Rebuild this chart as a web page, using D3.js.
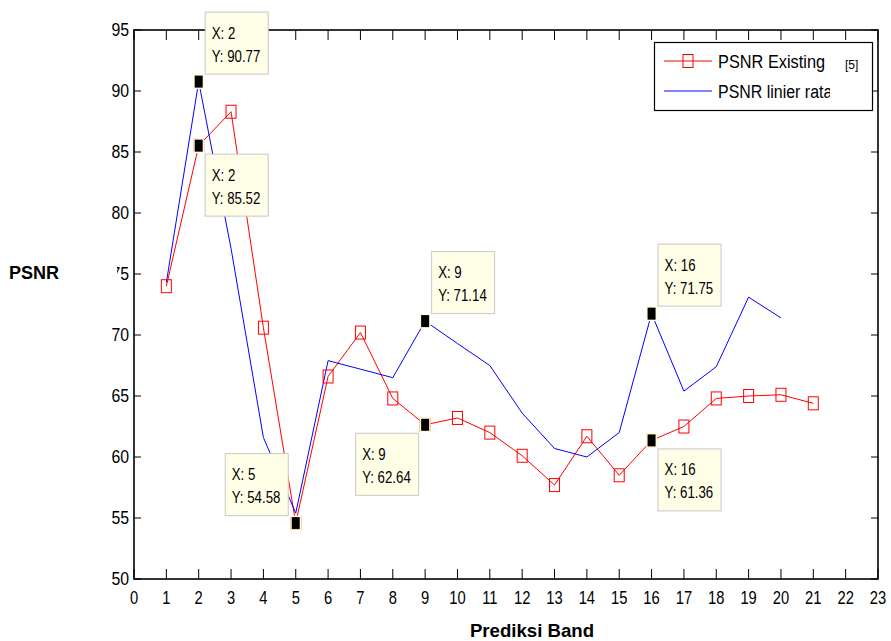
<!DOCTYPE html>
<html><head><meta charset="utf-8">
<script src="https://cdn.jsdelivr.net/npm/d3@7"></script>
<style>
body{margin:0;background:#fff;}
svg{display:block;}
text{font-family:"Liberation Sans",Arial,sans-serif;fill:#000;}
</style></head>
<body>
<svg id="chart" width="891" height="641"></svg>
<script>
// ---- data ----
const bands = [1,2,3,4,5,6,7,8,9,10,11,12,13,14,15,16,17,18,19,20,21];
const psnrExisting = [74.0,85.52,88.3,70.6,54.58,66.6,70.2,64.8,62.64,63.2,62.0,60.1,57.7,61.7,58.5,61.36,62.5,64.8,65.0,65.1,64.4];
const bandsLinier = [1,2,3,4,5,6,7,8,9,10,11,12,13,14,15,16,17,18,19,20];
const psnrLinier = [74.3,90.77,77.1,61.6,55.4,67.9,67.2,66.5,71.14,69.3,67.5,63.6,60.7,60.0,62.0,71.75,65.4,67.4,73.1,71.4];
const xTicks = d3.range(0,24);
const yTicks = [50,55,60,65,70,75,80,85,90,95];
const seriesNames = ["PSNR Existing","PSNR linier rata"];
// data tips: x, y, placement
const dataTips = [
  {x:2, y:90.77, place:"ur"},
  {x:2, y:85.52, place:"dr"},
  {x:5, y:54.58, place:"ul"},
  {x:9, y:62.64, place:"dl"},
  {x:9, y:71.14, place:"ur"},
  {x:16, y:71.75, place:"ur"},
  {x:16, y:61.36, place:"dr"}
];

// ---- layout ----
const svg = d3.select("#chart");
const L=134, R=878, T=30, B=579;
const x = d3.scaleLinear().domain([0,23]).range([L,R]);
const y = d3.scaleLinear().domain([50,95]).range([B,T]);

function ntext(g, tx, ty, str, size, sx, anchor){
  return g.append("text")
    .attr("transform",`translate(${tx},${ty}) scale(${sx},1)`)
    .attr("font-size",size).attr("text-anchor",anchor||"start").text(str);
}

// lines
const line = d3.line().x(d=>x(d[0])).y(d=>y(d[1]));
svg.append("path").datum(bands.map((b,i)=>[b,psnrExisting[i]]))
  .attr("d",line).attr("fill","none").attr("stroke","#ff0000").attr("stroke-width",1);
svg.append("path").datum(bandsLinier.map((b,i)=>[b,psnrLinier[i]]))
  .attr("d",line).attr("fill","none").attr("stroke","#0000ff").attr("stroke-width",1);
// red square markers
svg.append("g").selectAll("rect").data(bands.map((b,i)=>[b,psnrExisting[i]])).join("rect")
  .attr("x",d=>x(d[0])-5).attr("y",d=>y(d[1])-6.5).attr("width",10).attr("height",13)
  .attr("fill","none").attr("stroke","#ff0000").attr("stroke-width",1);

// axes box
const ax = svg.append("g");
ax.append("rect").attr("x",L).attr("y",T).attr("width",R-L).attr("height",B-T)
  .attr("fill","none").attr("stroke","#000").attr("stroke-width",1.6);
ax.selectAll(".xtb").data(xTicks).join("line").attr("class","xtb")
  .attr("x1",d=>x(d)).attr("x2",d=>x(d)).attr("y1",B).attr("y2",B-10)
  .attr("stroke","#000").attr("stroke-width",1);
ax.selectAll(".xtt").data(xTicks).join("line").attr("class","xtt")
  .attr("x1",d=>x(d)).attr("x2",d=>x(d)).attr("y1",T).attr("y2",T+10)
  .attr("stroke","#000").attr("stroke-width",1);
ax.selectAll(".ytl").data(yTicks).join("line").attr("class","ytl")
  .attr("x1",L).attr("x2",L+7).attr("y1",d=>y(d)).attr("y2",d=>y(d))
  .attr("stroke","#000").attr("stroke-width",1);
ax.selectAll(".ytr").data(yTicks).join("line").attr("class","ytr")
  .attr("x1",R).attr("x2",R-7).attr("y1",d=>y(d)).attr("y2",d=>y(d))
  .attr("stroke","#000").attr("stroke-width",1);
// tick labels
xTicks.forEach(d=>ntext(ax, x(d), B+25, d, 18, 0.82, "middle"));
yTicks.forEach(d=>ntext(ax, L-5, y(d)+6, d, 18, 0.88, "end"));

// axis labels
svg.append("rect").attr("x",0).attr("y",257).attr("width",117).attr("height",30).attr("fill","#fff");
ntext(svg, 9, 279, "PSNR", 19, 0.95).attr("font-weight","bold");
ntext(svg, 532, 637, "Prediksi Band", 19, 0.98, "middle").attr("font-weight","bold");

// data tips
const tipW=63, tipH=62;
const tips = svg.append("g");
dataTips.forEach(t=>{
  const px=x(t.x), py=y(t.y);
  tips.append("rect").attr("x",px-5.5).attr("y",py-7.5).attr("width",11).attr("height",15).attr("fill","#ffffd8");
  tips.append("rect").attr("x",px-4).attr("y",py-6).attr("width",8).attr("height",12).attr("fill","#000");
  let bx, by;
  if(t.place==="ur"){bx=px+6; by=py-8-tipH;}
  else if(t.place==="dr"){bx=px+6; by=py+8;}
  else if(t.place==="ul"){bx=px-8-tipW; by=py-8-tipH;}
  else {bx=px-7-tipW; by=py+8;}
  tips.append("rect").attr("x",bx+0.5).attr("y",by+0.5).attr("width",tipW).attr("height",tipH)
    .attr("fill","#ffffe8").attr("stroke","#c8c8c8").attr("stroke-width",1);
  ntext(tips, bx+7, by+27, "X: "+t.x, 17, 0.78);
  ntext(tips, bx+7, by+50, "Y: "+t.y.toFixed(2), 17, 0.78);
});

// legend
const lg = svg.append("g");
lg.append("rect").attr("x",654.5).attr("y",42.5).attr("width",218).attr("height",68)
  .attr("fill","#fff").attr("stroke","#000").attr("stroke-width",1.2);
svg.append("defs").append("clipPath").attr("id","lgclip").append("rect")
  .attr("x",654).attr("y",40).attr("width",176).attr("height",72);
const lgc = lg.append("g").attr("clip-path","url(#lgclip)");
lgc.append("line").attr("x1",664).attr("x2",712).attr("y1",61).attr("y2",61).attr("stroke","#ff0000");
lgc.append("rect").attr("x",683).attr("y",54.5).attr("width",10).attr("height",13).attr("fill","none").attr("stroke","#ff0000");
lgc.append("line").attr("x1",664).attr("x2",712).attr("y1",91).attr("y2",91).attr("stroke","#0000ff");
ntext(lgc, 718, 68, seriesNames[0], 19, 0.86);
ntext(lgc, 718, 98, seriesNames[1], 19, 0.84);
lg.append("text").attr("x",845).attr("y",69).attr("font-size",12).text("[5]");
</script>
</body></html>
